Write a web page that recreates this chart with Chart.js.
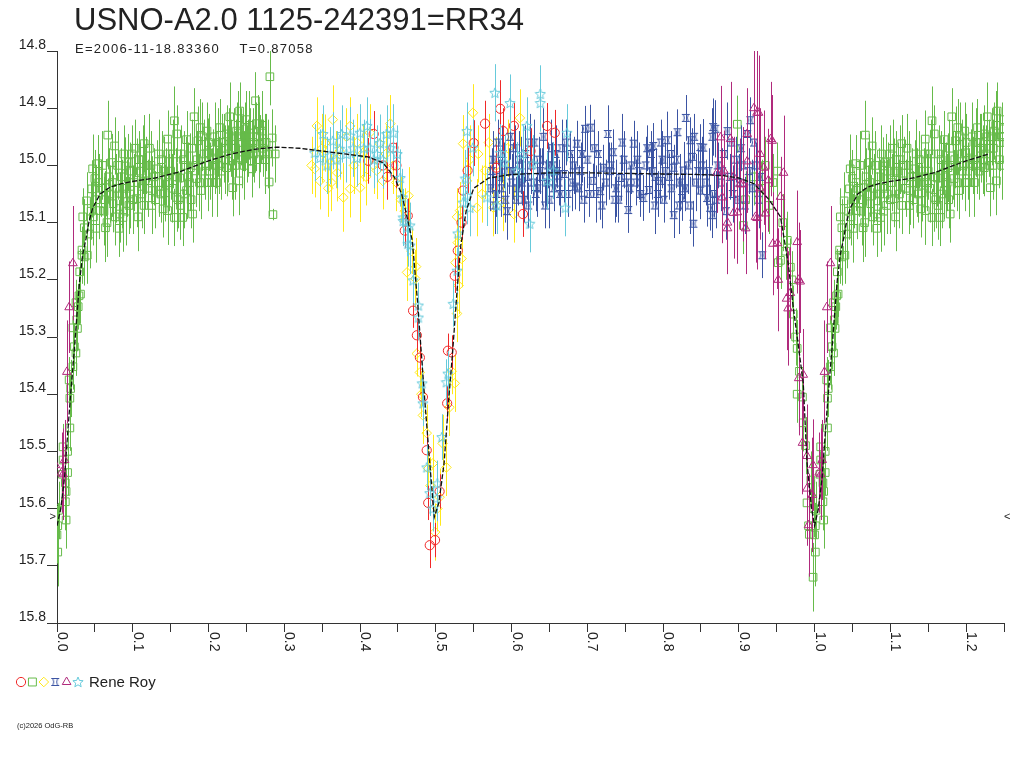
<!DOCTYPE html>
<html lang="en">
<head>
  <meta charset="UTF-8">
  <title>USNO-A2.0 1125-242391=RR34</title>
  <script src="https://cdn.jsdelivr.net/npm/chart.js"></script>
  <style>
    html, body { margin: 0; padding: 0; background: #fff; }
    #wrap { width: 1024px; height: 768px; position: relative; }
  </style>
</head>
<body>
<div id="wrap"><canvas id="lc"></canvas></div>
<script>
  // Title and observer
  const titleText = 'USNO-A2.0 1125-242391=RR34';
  const subText = 'E=2006-11-18.83360    T=0.87058';
  const observer = 'Rene Roy';
  const copyText = '(c)2026 OdG-RB';

  // Axis ticks
  const xTickLabels = [0.0, 0.1, 0.2, 0.3, 0.4, 0.5, 0.6, 0.7, 0.8, 0.9, 1.0, 1.1, 1.2];
  const yTickLabels = [14.8, 14.9, 15.0, 15.1, 15.2, 15.3, 15.4, 15.5, 15.6, 15.7, 15.8];
  const minMag = 15.615;

  // Observations: [phase, magnitude, error]
  const redObs = [
    [0.411,14.992,0.04],[0.418,14.945,0.04],[0.430,15.000,0.04],[0.436,15.020,0.04],[0.444,14.969,0.04],
    [0.448,15.000,0.04],[0.459,15.114,0.03],[0.463,15.088,0.03],[0.470,15.254,0.03],[0.475,15.297,0.03],
    [0.479,15.336,0.03],[0.483,15.405,0.03],[0.488,15.498,0.03],[0.490,15.590,0.03],[0.492,15.664,0.04],
    [0.499,15.655,0.03],[0.505,15.570,0.03],[0.515,15.416,0.03],[0.516,15.324,0.03],[0.521,15.327,0.03],
    [0.525,15.193,0.03],[0.529,15.149,0.03],[0.534,15.100,0.03],[0.536,15.044,0.03],[0.542,15.009,0.04],
    [0.550,14.961,0.04],[0.565,14.927,0.04],[0.580,15.004,0.04],[0.585,14.901,0.05],[0.589,14.940,0.04],
    [0.603,14.931,0.04],[0.615,15.085,0.04],[0.625,14.975,0.04],[0.647,14.931,0.04],[0.657,14.943,0.04]
  ];

  const greenObs = [
    [0.000,15.646,0.05],[0.001,15.676,0.06],[0.001,15.630,0.04],[0.002,15.603,0.05],[0.007,15.540,0.04],
    [0.008,15.515,0.05],[0.008,15.492,0.04],[0.011,15.588,0.05],[0.011,15.555,0.05],[0.012,15.570,0.04],
    [0.012,15.620,0.05],[0.014,15.537,0.04],[0.014,15.500,0.04],[0.016,15.375,0.04],[0.017,15.459,0.04],
    [0.017,15.407,0.04],[0.018,15.390,0.05],[0.021,15.352,0.04],[0.021,15.284,0.04],[0.023,15.317,0.04],
    [0.025,15.328,0.04],[0.025,15.240,0.04],[0.026,15.270,0.05],[0.027,15.285,0.04],[0.028,15.247,0.04],
    [0.029,15.228,0.05],[0.030,15.186,0.04],[0.031,15.225,0.04],[0.033,15.157,0.05],[0.033,15.148,0.04],
    [0.034,15.090,0.05],[0.036,15.160,0.05],[0.036,15.109,0.05],[0.039,15.062,0.05],[0.040,15.157,0.05],
    [0.043,15.120,0.06],[0.045,15.080,0.05],[0.046,15.041,0.05],[0.047,15.006,0.06],[0.048,15.090,0.05],
    [0.050,15.023,0.05],[0.051,15.110,0.06],[0.052,15.060,0.05],[0.054,14.997,0.05],[0.055,15.030,0.05],
    [0.056,15.079,0.05],[0.058,15.040,0.05],[0.060,15.000,0.06],[0.062,15.080,0.06],[0.063,15.060,0.05],
    [0.064,15.109,0.06],[0.065,15.039,0.05],[0.066,15.100,0.06],[0.067,14.947,0.06],[0.068,15.020,0.05],
    [0.070,15.050,0.05],[0.072,14.995,0.05],[0.073,15.030,0.06],[0.074,15.067,0.05],[0.076,14.966,0.05],
    [0.077,15.090,0.05],[0.078,15.040,0.06],[0.080,15.000,0.06],[0.082,15.110,0.05],[0.083,15.085,0.05],
    [0.083,15.062,0.05],[0.085,15.020,0.05],[0.086,15.050,0.06],[0.087,15.091,0.06],[0.088,14.980,0.05],
    [0.090,15.001,0.05],[0.091,15.080,0.06],[0.092,15.040,0.05],[0.094,14.995,0.05],[0.095,15.070,0.05],
    [0.096,15.050,0.06],[0.097,15.010,0.05],[0.099,14.980,0.05],[0.100,15.060,0.06],[0.102,15.030,0.05],
    [0.103,14.970,0.05],[0.105,15.058,0.05],[0.105,15.013,0.06],[0.107,15.090,0.06],[0.108,14.990,0.05],
    [0.110,15.010,0.05],[0.112,15.050,0.06],[0.113,14.990,0.06],[0.115,14.962,0.05],[0.115,15.070,0.05],
    [0.116,15.027,0.05],[0.118,15.000,0.05],[0.120,15.040,0.05],[0.122,14.970,0.06],[0.124,15.000,0.06],
    [0.125,15.070,0.05],[0.126,15.044,0.06],[0.128,15.020,0.05],[0.130,15.060,0.05],[0.132,15.006,0.05],
    [0.134,14.980,0.06],[0.135,15.030,0.06],[0.137,15.050,0.05],[0.138,14.990,0.05],[0.140,15.076,0.05],
    [0.141,15.010,0.06],[0.142,15.048,0.05],[0.144,15.020,0.05],[0.146,15.079,0.06],[0.146,14.954,0.05],
    [0.146,14.980,0.05],[0.148,15.030,0.05],[0.150,15.010,0.05],[0.152,15.040,0.06],[0.153,14.980,0.06],
    [0.155,14.922,0.06],[0.155,15.091,0.05],[0.157,15.020,0.05],[0.158,14.945,0.05],[0.158,15.056,0.06],
    [0.160,15.060,0.05],[0.162,15.022,0.05],[0.163,15.070,0.06],[0.164,14.980,0.05],[0.166,15.091,0.05],
    [0.167,14.990,0.05],[0.168,15.050,0.06],[0.170,15.000,0.05],[0.171,14.955,0.05],[0.171,15.044,0.05],
    [0.173,15.020,0.06],[0.175,15.030,0.05],[0.176,15.004,0.06],[0.177,15.060,0.05],[0.178,14.970,0.05],
    [0.179,15.085,0.05],[0.181,14.915,0.05],[0.183,15.000,0.06],[0.184,15.023,0.05],[0.185,14.990,0.05],
    [0.186,14.957,0.06],[0.188,15.030,0.05],[0.189,14.934,0.05],[0.190,15.044,0.05],[0.192,14.950,0.06],
    [0.194,14.980,0.06],[0.195,15.010,0.05],[0.196,15.000,0.05],[0.198,14.940,0.05],[0.199,15.030,0.05],
    [0.199,14.978,0.06],[0.200,14.960,0.05],[0.202,15.010,0.05],[0.204,15.030,0.06],[0.206,14.987,0.05],
    [0.208,14.950,0.06],[0.209,15.000,0.05],[0.210,14.990,0.05],[0.211,15.030,0.06],[0.213,14.960,0.06],
    [0.214,15.000,0.05],[0.215,14.934,0.05],[0.217,15.010,0.05],[0.218,14.960,0.05],[0.220,14.970,0.06],
    [0.222,14.990,0.06],[0.224,14.945,0.05],[0.224,15.004,0.05],[0.226,14.980,0.05],[0.227,14.950,0.05],
    [0.228,14.915,0.06],[0.230,14.970,0.05],[0.231,15.000,0.06],[0.232,15.039,0.05],[0.234,14.950,0.05],
    [0.235,15.000,0.06],[0.236,14.970,0.05],[0.237,14.940,0.05],[0.239,14.930,0.06],[0.240,15.027,0.06],
    [0.241,14.905,0.05],[0.243,14.950,0.05],[0.244,14.990,0.05],[0.245,14.960,0.05],[0.247,15.000,0.06],
    [0.248,14.950,0.06],[0.250,14.920,0.05],[0.250,14.936,0.06],[0.251,14.980,0.05],[0.252,14.970,0.05],
    [0.254,14.930,0.06],[0.255,14.950,0.05],[0.257,15.006,0.05],[0.257,14.992,0.05],[0.258,14.970,0.05],
    [0.259,14.960,0.06],[0.260,14.980,0.05],[0.262,14.887,0.05],[0.263,14.950,0.06],[0.265,14.927,0.05],
    [0.266,14.950,0.06],[0.267,14.990,0.05],[0.268,14.962,0.05],[0.270,14.940,0.05],[0.271,14.930,0.06],
    [0.272,14.970,0.05],[0.274,14.960,0.05],[0.275,14.990,0.06],[0.276,14.960,0.05],[0.278,14.980,0.06],
    [0.280,15.029,0.06],[0.281,14.845,0.05],[0.284,14.952,0.05],[0.285,15.086,0.01],[0.288,14.980,0.05],
    [0.898,14.928,0.05],[0.906,15.105,0.05],[0.909,15.060,0.05],[0.920,15.020,0.05],[0.930,15.040,0.05],
    [0.935,15.000,0.05],[0.940,15.070,0.05],[0.945,15.030,0.05],[0.951,15.010,0.05],[0.952,15.170,0.05],
    [0.955,15.166,0.05],[0.958,15.100,0.05],[0.962,15.150,0.05],[0.964,15.131,0.05],[0.968,15.178,0.05],
    [0.970,15.200,0.05],[0.972,15.260,0.05],[0.975,15.300,0.05],[0.977,15.320,0.05],[0.977,15.400,0.05],
    [0.980,15.360,0.04],[0.984,15.405,0.05],[0.985,15.450,0.05],[0.988,15.490,0.05],[0.990,15.590,0.05],
    [0.992,15.630,0.05],[0.993,15.645,0.05],[0.995,15.550,0.05],[0.998,15.720,0.06],[0.999,15.600,0.05]
  ];

  const yellowObs = [
    [0.336,15.000,0.05],[0.340,15.006,0.05],[0.343,14.931,0.05],[0.347,15.027,0.05],[0.350,14.970,0.06],
    [0.354,14.961,0.05],[0.358,15.040,0.05],[0.362,15.030,0.05],[0.364,14.920,0.06],[0.368,14.990,0.05],
    [0.370,15.013,0.05],[0.373,14.975,0.05],[0.378,15.056,0.06],[0.382,14.950,0.05],[0.387,14.931,0.05],
    [0.387,15.041,0.05],[0.392,15.000,0.05],[0.396,14.960,0.05],[0.400,15.039,0.06],[0.404,14.978,0.05],
    [0.408,15.020,0.05],[0.413,14.943,0.05],[0.418,15.000,0.05],[0.422,15.009,0.05],[0.426,14.962,0.05],
    [0.430,15.027,0.05],[0.434,14.980,0.05],[0.440,14.927,0.05],[0.444,15.000,0.05],[0.448,15.030,0.05],
    [0.454,15.060,0.04],[0.459,15.080,0.04],[0.462,15.187,0.05],[0.464,15.053,0.05],[0.468,15.150,0.04],
    [0.473,15.198,0.05],[0.474,15.177,0.05],[0.475,15.329,0.04],[0.479,15.362,0.04],[0.481,15.400,0.04],
    [0.483,15.437,0.05],[0.488,15.468,0.05],[0.490,15.530,0.04],[0.493,15.560,0.05],[0.496,15.521,0.05],
    [0.499,15.641,0.05],[0.502,15.600,0.04],[0.505,15.580,0.05],[0.509,15.486,0.05],[0.514,15.528,0.05],
    [0.518,15.423,0.05],[0.521,15.360,0.04],[0.525,15.381,0.05],[0.526,15.170,0.05],[0.528,15.259,0.05],
    [0.528,15.090,0.05],[0.529,15.135,0.05],[0.530,15.210,0.05],[0.532,15.079,0.05],[0.534,15.163,0.05],
    [0.536,14.962,0.05],[0.541,15.027,0.05],[0.545,14.990,0.06],[0.549,14.908,0.05],[0.554,15.074,0.05],
    [0.556,14.980,0.05],[0.561,15.050,0.05],[0.565,15.009,0.05],[0.570,14.960,0.05],[0.576,15.074,0.05],
    [0.580,15.000,0.05],[0.589,15.065,0.05],[0.595,14.970,0.05],[0.603,15.085,0.05],[0.611,14.917,0.05]
  ];

  const blueObs = [
    [0.572,15.040,0.04],[0.574,15.010,0.04],[0.576,14.990,0.05],[0.578,15.070,0.05],[0.580,15.050,0.04],
    [0.582,14.960,0.04],[0.584,15.020,0.03],[0.586,15.040,0.05],[0.588,14.980,0.05],[0.590,15.000,0.04],
    [0.592,15.060,0.04],[0.594,15.080,0.05],[0.596,15.010,0.04],[0.598,14.950,0.04],[0.600,15.030,0.05],
    [0.602,15.010,0.05],[0.604,14.970,0.04],[0.606,15.060,0.04],[0.608,15.040,0.03],[0.610,14.990,0.05],
    [0.612,15.000,0.05],[0.614,15.030,0.04],[0.616,15.060,0.04],[0.618,14.980,0.05],[0.620,15.020,0.04],
    [0.622,15.070,0.04],[0.624,14.960,0.05],[0.626,15.000,0.05],[0.628,15.030,0.04],[0.630,14.960,0.04],
    [0.632,15.050,0.03],[0.634,15.040,0.05],[0.636,14.990,0.04],[0.638,15.010,0.04],[0.640,15.020,0.05],
    [0.642,14.950,0.05],[0.644,15.070,0.04],[0.646,15.030,0.04],[0.648,15.000,0.04],[0.650,15.060,0.05],
    [0.652,14.970,0.05],[0.654,15.000,0.04],[0.656,15.040,0.04],[0.658,14.980,0.05],[0.660,15.010,0.03],
    [0.662,15.030,0.04],[0.664,15.050,0.04],[0.666,14.970,0.05],[0.669,15.015,0.05],[0.672,14.960,0.04],
    [0.674,15.050,0.04],[0.677,14.980,0.04],[0.680,15.030,0.05],[0.682,15.000,0.05],[0.684,15.037,0.04],
    [0.686,14.962,0.04],[0.689,15.040,0.04],[0.691,15.010,0.05],[0.693,14.980,0.05],[0.695,15.060,0.04],
    [0.697,14.936,0.04],[0.700,14.990,0.05],[0.702,15.050,0.04],[0.704,14.934,0.04],[0.707,15.027,0.03],
    [0.709,14.970,0.05],[0.711,15.050,0.05],[0.714,14.980,0.04],[0.717,15.045,0.05],[0.719,15.070,0.04],
    [0.721,15.004,0.04],[0.724,15.030,0.04],[0.727,14.945,0.05],[0.729,15.010,0.05],[0.731,15.000,0.04],
    [0.734,14.977,0.04],[0.736,15.060,0.04],[0.738,15.040,0.05],[0.741,15.060,0.04],[0.744,15.022,0.04],
    [0.746,14.960,0.05],[0.748,14.990,0.05],[0.751,15.030,0.04],[0.754,15.078,0.04],[0.756,15.040,0.04],
    [0.758,15.000,0.05],[0.761,14.962,0.04],[0.764,15.030,0.04],[0.766,14.990,0.05],[0.768,15.010,0.05],
    [0.770,15.050,0.04],[0.774,15.057,0.04],[0.777,15.000,0.05],[0.779,14.970,0.04],[0.781,15.043,0.04],
    [0.784,14.980,0.04],[0.786,15.010,0.05],[0.787,14.966,0.04],[0.789,15.070,0.05],[0.790,15.020,0.05],
    [0.793,15.050,0.04],[0.796,15.027,0.04],[0.797,14.960,0.04],[0.799,14.990,0.05],[0.801,15.060,0.04],
    [0.803,15.010,0.05],[0.805,14.956,0.05],[0.808,15.020,0.04],[0.810,14.980,0.04],[0.811,15.040,0.05],
    [0.814,15.004,0.04],[0.814,15.087,0.04],[0.817,14.990,0.05],[0.819,14.942,0.04],[0.821,15.070,0.05],
    [0.822,15.030,0.05],[0.825,15.057,0.04],[0.827,15.009,0.05],[0.829,15.040,0.04],[0.830,14.917,0.04],
    [0.833,15.000,0.05],[0.835,15.070,0.05],[0.836,14.956,0.04],[0.838,14.985,0.05],[0.840,15.102,0.04],
    [0.841,14.950,0.04],[0.843,15.030,0.05],[0.846,15.010,0.04],[0.849,15.044,0.05],[0.849,14.968,0.04],
    [0.851,15.000,0.05],[0.853,14.969,0.05],[0.856,15.030,0.04],[0.858,15.057,0.05],[0.860,15.010,0.04],
    [0.862,15.074,0.04],[0.865,14.950,0.05],[0.865,15.087,0.04],[0.866,14.933,0.05],[0.867,15.050,0.04],
    [0.869,14.936,0.05],[0.870,15.060,0.05],[0.872,15.000,0.04],[0.876,15.030,0.05],[0.878,15.010,0.04],
    [0.880,14.980,0.04],[0.883,15.080,0.05],[0.885,14.940,0.05],[0.888,15.020,0.04],[0.890,14.960,0.04],
    [0.892,15.050,0.05],[0.896,14.990,0.04],[0.898,15.060,0.05],[0.900,15.030,0.05],[0.903,14.970,0.04],
    [0.905,15.000,0.04],[0.908,15.070,0.05],[0.911,14.945,0.05],[0.913,15.010,0.04],[0.915,14.921,0.04],
    [0.918,15.040,0.05],[0.920,14.960,0.05],[0.922,15.000,0.04],[0.926,15.060,0.05],[0.928,15.020,0.04],
    [0.931,15.157,0.04]
  ];

  const purpleObs = [
    [0.006,15.537,0.07],[0.008,15.540,0.08],[0.010,15.515,0.07],[0.013,15.361,0.09],[0.016,15.248,0.08],
    [0.021,15.171,0.10],[0.871,15.013,0.07],[0.876,14.951,0.09],[0.878,15.056,0.08],[0.880,15.009,0.07],
    [0.885,15.100,0.09],[0.885,15.110,0.08],[0.889,14.954,0.10],[0.893,15.083,0.08],[0.893,15.020,0.07],
    [0.898,15.082,0.09],[0.902,15.033,0.08],[0.905,15.033,0.10],[0.909,15.110,0.08],[0.911,14.993,0.09],
    [0.911,14.945,0.08],[0.920,14.900,0.10],[0.922,15.090,0.08],[0.924,14.908,0.11],[0.926,14.908,0.10],
    [0.924,15.092,0.09],[0.928,14.980,0.08],[0.928,15.040,0.09],[0.933,15.004,0.10],[0.935,15.084,0.08],
    [0.939,15.026,0.09],[0.942,14.954,0.10],[0.944,14.957,0.08],[0.945,15.137,0.09],[0.951,15.136,0.08],
    [0.952,15.200,0.09],[0.955,15.055,0.07],[0.959,15.013,0.10],[0.963,15.233,0.09],[0.965,15.250,0.10],
    [0.968,15.223,0.08],[0.977,15.134,0.09],[0.979,15.200,0.10],[0.979,15.372,0.10],[0.981,15.203,0.09],
    [0.984,15.485,0.09],[0.985,15.366,0.08],[0.990,15.508,0.09],[0.990,15.565,0.10],[0.992,15.629,0.09],
    [0.997,15.576,0.10],[0.998,15.524,0.08]
  ];

  const cyanObs = [
    [0.340,14.978,0.05],[0.347,14.987,0.05],[0.351,14.945,0.05],[0.356,15.000,0.05],[0.360,14.983,0.05],
    [0.364,14.957,0.05],[0.369,14.990,0.05],[0.373,14.971,0.05],[0.376,14.945,0.05],[0.382,14.980,0.05],
    [0.387,14.948,0.05],[0.391,14.970,0.05],[0.396,14.987,0.05],[0.400,14.943,0.05],[0.405,14.970,0.05],
    [0.409,14.931,0.05],[0.413,14.969,0.05],[0.418,14.990,0.05],[0.422,14.980,0.05],[0.426,14.961,0.05],
    [0.430,14.990,0.05],[0.435,14.945,0.05],[0.440,14.970,0.05],[0.444,14.943,0.05],[0.449,14.980,0.05],
    [0.453,15.022,0.05],[0.456,15.056,0.05],[0.457,15.091,0.05],[0.457,15.097,0.04],[0.462,15.109,0.05],
    [0.463,15.137,0.04],[0.466,15.105,0.04],[0.466,15.140,0.05],[0.470,15.201,0.04],[0.477,15.245,0.04],
    [0.477,15.266,0.04],[0.482,15.381,0.04],[0.483,15.416,0.04],[0.488,15.528,0.04],[0.492,15.573,0.04],
    [0.496,15.600,0.04],[0.501,15.582,0.04],[0.502,15.556,0.04],[0.508,15.475,0.04],[0.514,15.379,0.04],
    [0.516,15.364,0.04],[0.523,15.242,0.04],[0.528,15.184,0.04],[0.529,15.119,0.04],[0.536,15.065,0.05],
    [0.539,15.023,0.05],[0.541,14.940,0.05],[0.541,15.053,0.05],[0.545,15.074,0.05],[0.549,14.969,0.05],
    [0.567,15.056,0.05],[0.578,14.873,0.05],[0.581,15.070,0.05],[0.585,14.978,0.05],[0.591,14.995,0.05],
    [0.598,14.891,0.05],[0.607,15.009,0.05],[0.615,14.980,0.05],[0.620,14.931,0.05],[0.624,15.102,0.05],
    [0.628,14.997,0.05],[0.638,14.875,0.05],[0.638,14.891,0.05],[0.647,15.027,0.05],[0.655,15.009,0.05],
    [0.671,15.074,0.05],[0.673,14.943,0.05]
  ];

  // Fitted light curve: [phase, magnitude]
  const modelCurve = [
    [0.000,15.630],[0.005,15.600],[0.010,15.545],[0.014,15.470],[0.018,15.400],[0.023,15.320],
    [0.027,15.250],[0.030,15.200],[0.034,15.155],[0.038,15.130],[0.042,15.100],[0.047,15.075],
    [0.057,15.050],[0.070,15.038],[0.085,15.032],[0.100,15.028],[0.130,15.022],[0.160,15.012],
    [0.200,14.992],[0.230,14.980],[0.260,14.972],[0.290,14.968],[0.320,14.970],[0.350,14.975],
    [0.380,14.980],[0.410,14.985],[0.430,14.995],[0.445,15.020],[0.455,15.050],[0.462,15.090],
    [0.469,15.132],[0.476,15.240],[0.486,15.420],[0.492,15.520],[0.498,15.615],[0.504,15.590],
    [0.511,15.520],[0.517,15.410],[0.522,15.330],[0.528,15.220],[0.533,15.140],[0.540,15.080],
    [0.550,15.040],[0.570,15.022],[0.600,15.016],[0.650,15.013],[0.700,15.013],[0.750,15.014],
    [0.800,15.015],[0.850,15.016],[0.880,15.018],[0.900,15.022],[0.920,15.032],[0.940,15.060],
    [0.955,15.090],[0.965,15.170],[0.972,15.250],[0.985,15.380],[0.990,15.520],[0.996,15.600],
    [1.000,15.630]
  ];

  const X_MIN = 0, X_MAX = 1.25;
  const FONT = '"Liberation Sans", Arial, sans-serif';

  // repeat phases so the curve continues past phase 1
  function fold(rows) {
    const pts = [];
    rows.forEach(function (r) {
      [r[0] - 1, r[0], r[0] + 1].forEach(function (x) {
        if (x >= X_MIN - 0.004 && x <= X_MAX + 0.004) pts.push({ x: x, y: r[1], e: r[2] || 0 });
      });
    });
    return pts.sort(function (a, b) { return a.x - b.x; });
  }

  function makeStar(color) {
    const c = document.createElement('canvas');
    c.width = 12; c.height = 12;
    const g = c.getContext('2d');
    g.strokeStyle = color; g.lineWidth = 1;
    g.beginPath();
    for (let k = 0; k < 10; k++) {
      const r = k % 2 ? 2.4 : 5.4;
      const a = -Math.PI / 2 + k * Math.PI / 5;
      const px = 6 + r * Math.cos(a), py = 6.4 + r * Math.sin(a);
      if (k) g.lineTo(px, py); else g.moveTo(px, py);
    }
    g.closePath(); g.stroke();
    return c;
  }

  function makeCurrency(color) {
    const c = document.createElement('canvas');
    c.width = 10; c.height = 10;
    const g = c.getContext('2d');
    g.strokeStyle = color; g.lineWidth = 1;
    g.beginPath();
    g.moveTo(1, 1.5); g.lineTo(9, 1.5);
    g.moveTo(1, 8.5); g.lineTo(9, 8.5);
    g.moveTo(2.5, 1); g.quadraticCurveTo(4.5, 5, 2.5, 9);
    g.moveTo(7.5, 1); g.quadraticCurveTo(5.5, 5, 7.5, 9);
    g.stroke();
    return c;
  }

  const colRed = '#f02828', colGreen = '#66bb4a', colYellow = '#ffe81a',
        colBlue = '#3b54a3', colPurple = '#b02a7c', colCyan = '#66cadb';
  const starImg = makeStar(colCyan);
  const currImg = makeCurrency(colBlue);

  function series(rows, color, style, radius) {
    return {
      data: fold(rows),
      errColor: color,
      showLine: false,
      pointStyle: style,
      pointRadius: radius,
      pointHoverRadius: radius,
      pointBorderColor: color,
      pointBackgroundColor: 'rgba(0,0,0,0)',
      pointBorderWidth: 1
    };
  }

  // error bars, drawn just before each dataset's symbols
  const errorBars = {
    id: 'errorBars',
    beforeDatasetDraw(chart, args) {
      const ds = chart.data.datasets[args.index];
      if (!ds.errColor) return;
      const ctx = chart.ctx, a = chart.chartArea, xs = chart.scales.x, ys = chart.scales.y;
      ctx.save();
      ctx.beginPath();
      ctx.rect(a.left, a.top, a.right - a.left, a.bottom - a.top);
      ctx.clip();
      ctx.strokeStyle = ds.errColor;
      ctx.lineWidth = 1;
      ctx.beginPath();
      ds.data.forEach(function (pt) {
        if (!pt.e) return;
        const px = Math.round(xs.getPixelForValue(pt.x)) + 0.5;
        ctx.moveTo(px, ys.getPixelForValue(pt.y - pt.e));
        ctx.lineTo(px, ys.getPixelForValue(pt.y + pt.e));
      });
      ctx.stroke();
      ctx.restore();
    }
  };

  // titles, tick labels, legend
  const decorations = {
    id: 'decorations',
    afterDraw(chart) {
      const ctx = chart.ctx, xs = chart.scales.x, ys = chart.scales.y;
      ctx.save();
      ctx.fillStyle = '#222';

      ctx.font = '31px ' + FONT;
      ctx.textAlign = 'left';
      ctx.textBaseline = 'alphabetic';
      ctx.fillText(titleText, 74, 30);

      ctx.font = '13px ' + FONT;
      if ('letterSpacing' in ctx) ctx.letterSpacing = '1.3px';
      ctx.fillText(subText, 75, 53);
      if ('letterSpacing' in ctx) ctx.letterSpacing = '0px';

      ctx.font = '14px ' + FONT;
      ctx.textAlign = 'right';
      yTickLabels.forEach(function (v) {
        ctx.fillText(v.toFixed(1), 46, ys.getPixelForValue(v) - 2);
      });

      ctx.textAlign = 'left';
      xTickLabels.forEach(function (v) {
        const px = xs.getPixelForValue(v);
        ctx.save();
        ctx.translate(px + 1, 632);
        ctx.rotate(Math.PI / 2);
        ctx.fillText(v.toFixed(1), 0, 0);
        ctx.restore();
      });

      // minimum markers
      ctx.font = '11px ' + FONT;
      ctx.textBaseline = 'middle';
      const my = ys.getPixelForValue(minMag);
      ctx.textAlign = 'right';
      ctx.fillText('>', 56, my);
      ctx.textAlign = 'left';
      ctx.fillText('<', 1004, my);

      // legend
      const items = [
        [colRed, 'circle', 4.6], [colGreen, 'rect', 5.6], [colYellow, 'rectRot', 4.8],
        [colBlue, currImg, 0], [colPurple, 'triangle', 5], [colCyan, starImg, 0]
      ];
      items.forEach(function (it, i) {
        const cx = 21 + i * 11.4, cy = 682;
        ctx.strokeStyle = it[0];
        ctx.fillStyle = 'rgba(0,0,0,0)';
        ctx.lineWidth = 1;
        Chart.helpers.drawPoint(ctx, { pointStyle: it[1], radius: it[2], borderWidth: 1, rotation: 0 }, cx, cy);
      });
      ctx.fillStyle = '#222';
      ctx.textBaseline = 'alphabetic';
      ctx.textAlign = 'left';
      ctx.font = '15px ' + FONT;
      ctx.fillText(observer, 89, 687);

      ctx.font = '7.5px ' + FONT;
      ctx.fillText(copyText, 17, 728);
      ctx.restore();
    }
  };

  const modelSet = {
    type: 'line',
    data: fold(modelCurve.map(function (r) { return [r[0], r[1], 0]; })),
    borderColor: '#111',
    borderWidth: 1.3,
    borderDash: [5, 2],
    pointRadius: 0,
    fill: false,
    tension: 0
  };

  new Chart(document.getElementById('lc'), {
    type: 'scatter',
    data: {
      datasets: [
        modelSet,
        series(cyanObs, colCyan, starImg, 6),
        series(purpleObs, colPurple, 'triangle', 5),
        series(redObs, colRed, 'circle', 4.6),
        series(blueObs, colBlue, currImg, 5),
        series(yellowObs, colYellow, 'rectRot', 4.8),
        series(greenObs, colGreen, 'rect', 5.4)
      ]
    },
    options: {
      responsive: true,
      maintainAspectRatio: false,
      devicePixelRatio: 1,
      animation: false,
      events: [],
      layout: { padding: { left: 47, right: 20, top: 51, bottom: 136 } },
      plugins: { legend: { display: false }, tooltip: { enabled: false }, title: { display: false } },
      scales: {
        x: {
          type: 'linear', min: X_MIN, max: X_MAX,
          ticks: { display: false, stepSize: 0.05 },
          grid: { drawOnChartArea: false, drawTicks: true, tickLength: 9, color: '#333' },
          border: { display: true, color: '#333', width: 1 }
        },
        y: {
          type: 'linear', min: 14.8, max: 15.8, reverse: true,
          ticks: { display: false, stepSize: 0.1 },
          grid: { drawOnChartArea: false, drawTicks: true, tickLength: 10, color: '#333' },
          border: { display: true, color: '#333', width: 1 }
        }
      }
    },
    plugins: [errorBars, decorations]
  });
</script>
</body>
</html>
